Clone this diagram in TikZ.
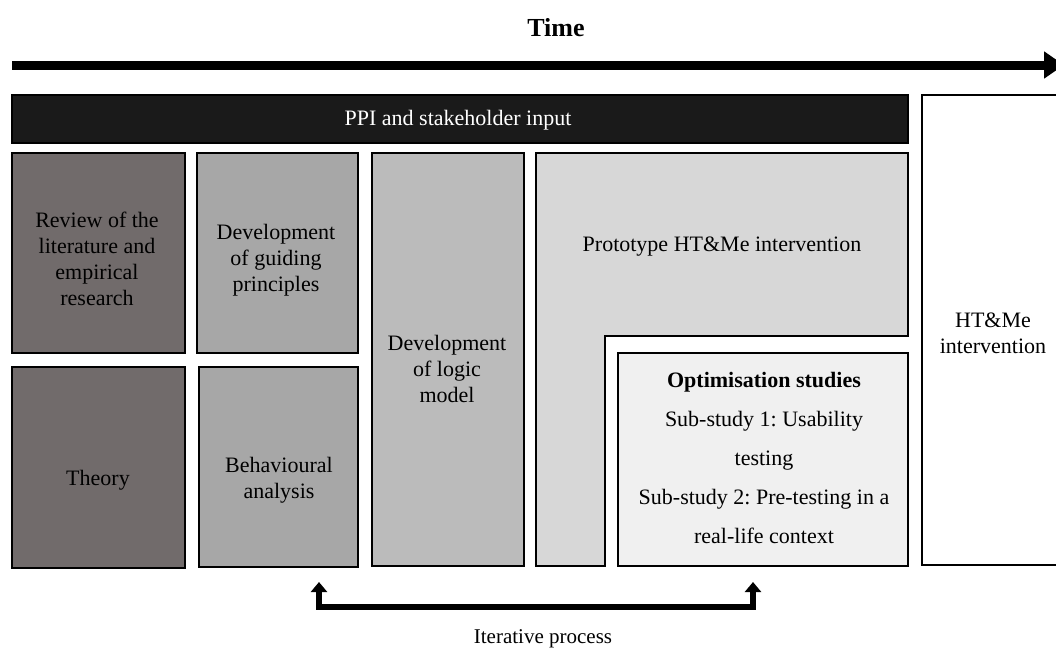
\documentclass[tikz,border=0pt]{standalone}
\usepackage{fontspec}
\setmainfont{Liberation Serif}
\usetikzlibrary{arrows.meta}
\definecolor{cdark}{HTML}{716B6B}
\definecolor{cmid}{HTML}{A7A7A7}
\definecolor{clogic}{HTML}{BBBBBB}
\definecolor{cproto}{HTML}{D7D7D7}
\definecolor{copt}{HTML}{F0F0F0}
\definecolor{cppi}{HTML}{1A1A1A}
\frenchspacing
\begin{document}
\begin{tikzpicture}[x=1pt,y=-1pt,
  box/.style={draw=black, line width=1.6pt, rectangle, anchor=north west, inner sep=0pt, outer sep=0pt},
  txt/.style={align=center, font=\fontsize{22}{26}\selectfont, inner sep=0pt},
  bigarrow/.style={line width=9pt, -{Triangle[length=20pt,width=26pt]}},
  iterarrow/.style={line width=6pt, line join=miter, {Triangle[length=10pt,width=16pt]}-{Triangle[length=10pt,width=16pt]}}
]
\useasboundingbox (0,0) rectangle (1056,648);
\clip (0,0) rectangle (1056,648);

% Time axis
\node[font=\fontsize{26}{30}\selectfont\bfseries, inner sep=0pt] (time) at (556,28) {Time};
\coordinate (ts) at (12,65);
\coordinate (te) at (1064,65);
\draw[bigarrow] (ts) -- (te);

% Boxes
\node[box, fill=cppi, minimum width=896, minimum height=48] (ppi) at (12,95) {};
\node[box, fill=cdark, minimum width=173, minimum height=200] (review) at (12,153) {};
\node[box, fill=cdark, minimum width=173, minimum height=201] (theory) at (12,367) {};
\node[box, fill=cmid, minimum width=161, minimum height=200] (guide) at (197,153) {};
\node[box, fill=cmid, minimum width=159, minimum height=200] (behav) at (199,367) {};
\node[box, fill=clogic, minimum width=152, minimum height=413] (logic) at (372,153) {};
\draw[line width=1.6pt, fill=cproto] (536,153) -- (908,153) -- (908,336) -- (605,336) -- (605,566) -- (536,566) -- cycle;
\node[box, fill=copt, minimum width=290, minimum height=213] (opt) at (618,353) {};
\node[box, fill=white, minimum width=145, minimum height=470] (htme) at (922,95) {};

% Texts
\node[txt, text=white] (ppit) at (458,120) {PPI and stakeholder input};
\node[txt] (reviewt) at (97,259) {Review of the\\literature and\\empirical\\research};
\node[txt] (guidet) at (276,260) {Development\\of guiding\\principles};
\node[txt] (logict) at (447,369) {Development\\of logic\\model};
\node[txt] (theoryt) at (98,480) {Theory};
\node[txt] (behavt) at (279,480) {Behavioural\\analysis};
\node[txt] (protot) at (722,247) {Prototype HT\&Me intervention};
\node[txt, font=\fontsize{22}{39}\selectfont] (optt) at (764,458) {\textbf{Optimisation studies}\\Sub-study 1: Usability\\testing\\Sub-study 2: Pre-testing in a\\real-life context};
\node[txt] (htmet) at (993,333) {HT\&Me\\intervention};

% Iterative process
\coordinate (itL) at (319,582);
\coordinate (itLb) at (319,607);
\coordinate (itRb) at (753,607);
\coordinate (itR) at (753,582);
\draw[iterarrow] (itL) -- (itLb) -- (itRb) -- (itR);
\node[txt, font=\fontsize{21}{25}\selectfont] (itert) at (543,639) {Iterative process};
\end{tikzpicture}
\end{document}
